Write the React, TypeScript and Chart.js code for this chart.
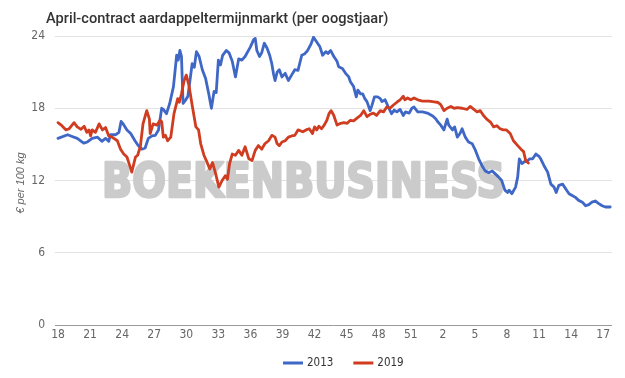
import React, { useEffect, useRef } from 'react';
import { Chart, registerables } from 'chart.js';

Chart.register(...registerables);

const TITLE = 'April-contract aardappeltermijnmarkt (per oogstjaar)';
const Y_TITLE = '€ per 100 kg';
const WATERMARK = 'BOEKENBUSINESS';
const SERIES_NAMES = ['2013', '2019'];
const SERIES_COLORS = ['#3f67c6', '#d03c1f'];

// x = weeks elapsed since week 18 of the harvest year
const X_TICK_POS = [0, 3, 6, 9, 12, 15, 18, 21, 24, 27, 30, 33, 36, 39, 42, 45, 48, 51];
const X_TICK_LABELS = ['18', '21', '24', '27', '30', '33', '36', '39', '42', '45', '48', '51', '2', '5', '8', '11', '14', '17'];
const Y_TICKS = [0, 6, 12, 18, 24];

const S2013: [number, number][] = [
  [0, 15.5], [0.9, 15.8], [1.2, 15.7], [1.8, 15.5], [2.4, 15.1], [2.75, 15.2], [3.2, 15.5], [3.7, 15.6],
  [4.1, 15.25], [4.45, 15.5], [4.75, 15.25], [4.9, 15.8], [5.4, 15.8], [5.7, 16.0], [5.9, 16.9], [6.1, 16.7],
  [6.45, 16.2], [6.8, 15.9], [7.2, 15.3], [7.5, 14.9], [7.85, 14.6], [8.15, 14.7], [8.45, 15.5], [8.8, 15.7],
  [9.1, 15.75], [9.4, 16.2], [9.7, 18.0], [9.85, 17.9], [10.15, 17.55], [10.45, 18.4], [10.8, 19.8], [11.1, 22.4],
  [11.25, 22.0], [11.4, 22.8], [11.55, 22.3], [11.7, 18.4], [11.95, 18.7], [12.15, 19.0], [12.55, 21.7], [12.75, 21.4],
  [12.95, 22.7], [13.2, 22.3], [13.5, 21.2], [13.8, 20.5], [14.1, 19.2], [14.35, 18.0], [14.6, 19.4], [14.8, 19.3],
  [15.0, 22.0], [15.2, 21.6], [15.4, 22.4], [15.75, 22.8], [16.0, 22.6], [16.3, 21.9], [16.6, 20.6], [16.9, 22.1],
  [17.2, 22.0], [17.5, 22.3], [18.0, 23.1], [18.3, 23.7], [18.45, 23.8], [18.6, 22.8], [18.85, 22.3], [19.05, 22.6],
  [19.3, 23.4], [19.55, 23.0], [19.8, 22.4], [20.0, 21.7], [20.15, 20.9], [20.3, 20.3], [20.5, 21.0], [20.7, 21.2],
  [20.95, 20.6], [21.25, 20.9], [21.55, 20.3], [21.85, 20.75], [22.15, 21.2], [22.45, 21.15], [22.8, 22.4], [23.05, 22.5],
  [23.35, 22.8], [23.65, 23.3], [23.9, 23.9], [24.2, 23.5], [24.5, 23.1], [24.75, 22.4], [25.05, 22.7], [25.25, 22.55],
  [25.5, 22.8], [25.8, 22.3], [26.1, 21.9], [26.25, 21.45], [26.6, 21.3], [26.9, 20.9], [27.2, 20.6], [27.35, 20.2],
  [27.65, 19.8], [27.9, 18.95], [28.05, 19.5], [28.3, 19.2], [28.5, 19.2], [28.7, 18.8], [28.9, 18.55], [29.2, 17.8],
  [29.35, 18.2], [29.6, 18.95], [29.9, 18.95], [30.15, 18.8], [30.3, 18.55], [30.6, 18.7], [30.9, 18.1], [31.2, 17.55],
  [31.45, 17.85], [31.7, 17.7], [32.0, 17.9], [32.3, 17.4], [32.5, 17.7], [32.85, 17.6], [33.1, 18.0], [33.3, 18.1],
  [33.65, 17.7], [34.1, 17.7], [34.55, 17.6], [35.05, 17.35], [35.35, 17.1], [35.5, 16.9], [35.8, 16.6], [36.1, 16.2],
  [36.4, 17.1], [36.55, 16.6], [36.9, 16.2], [37.1, 16.45], [37.35, 15.6], [37.6, 15.9], [37.8, 16.3], [38.1, 15.6],
  [38.4, 15.2], [38.75, 15.05], [39.05, 14.5], [39.35, 13.8], [39.65, 13.25], [39.95, 12.8], [40.3, 12.65], [40.6, 12.8],
  [40.9, 12.55], [41.2, 12.3], [41.5, 12.0], [41.8, 11.2], [42.05, 11.0], [42.2, 11.2], [42.45, 10.9], [42.8, 11.45],
  [43.0, 12.3], [43.15, 13.8], [43.4, 13.4], [43.6, 13.55], [43.95, 13.65], [44.1, 13.8], [44.4, 13.8], [44.7, 14.2],
  [45.0, 14.0], [45.15, 13.8], [45.45, 13.25], [45.8, 12.7], [46.1, 11.7], [46.4, 11.45], [46.6, 11.0], [46.85, 11.6],
  [47.2, 11.7], [47.5, 11.3], [47.8, 10.9], [48.1, 10.75], [48.4, 10.6], [48.7, 10.35], [49.05, 10.2], [49.35, 9.9],
  [49.65, 10.0], [49.95, 10.2], [50.25, 10.3], [50.55, 10.1], [50.9, 9.9], [51.2, 9.8], [51.65, 9.8],
];

const S2019: [number, number][] = [
  [0, 16.8], [0.3, 16.6], [0.75, 16.2], [1.05, 16.3], [1.5, 16.8], [1.8, 16.45], [2.15, 16.25], [2.45, 16.5],
  [2.7, 16.0], [2.9, 16.2], [3.05, 15.7], [3.2, 16.2], [3.5, 16.0], [3.85, 16.7], [4.15, 16.2], [4.45, 16.4],
  [4.75, 15.7], [5.05, 15.6], [5.55, 15.3], [5.85, 14.6], [6.15, 14.2], [6.45, 13.95], [6.65, 13.4], [6.9, 12.7],
  [7.25, 13.95], [7.45, 14.1], [7.7, 14.8], [7.95, 16.7], [8.3, 17.8], [8.55, 17.1], [8.62, 15.9], [8.9, 16.7],
  [9.25, 16.6], [9.55, 17.0], [9.7, 16.9], [9.85, 15.6], [10.05, 15.75], [10.25, 15.3], [10.55, 15.6], [10.85, 17.55],
  [11.2, 18.8], [11.35, 18.5], [11.55, 19.2], [11.8, 20.3], [12.0, 20.75], [12.25, 19.9], [12.55, 18.25], [12.9, 16.45],
  [13.15, 16.2], [13.35, 15.05], [13.65, 14.1], [13.95, 13.5], [14.2, 12.95], [14.45, 13.5], [14.75, 12.55], [15.05, 11.45],
  [15.35, 12.0], [15.65, 12.4], [15.85, 12.1], [16.05, 13.4], [16.3, 14.2], [16.6, 14.1], [16.9, 14.5], [17.2, 14.1],
  [17.5, 14.8], [17.85, 13.8], [18.15, 13.65], [18.45, 14.5], [18.75, 14.9], [19.05, 14.6], [19.35, 15.05], [19.7, 15.3],
  [20.0, 15.75], [20.3, 15.6], [20.5, 15.05], [20.7, 14.9], [20.95, 15.2], [21.25, 15.3], [21.55, 15.6], [21.85, 15.7],
  [22.15, 15.75], [22.45, 16.2], [22.9, 16.05], [23.2, 16.2], [23.5, 16.3], [23.8, 15.9], [24.0, 16.45], [24.2, 16.2],
  [24.4, 16.5], [24.65, 16.3], [24.9, 16.6], [25.15, 17.0], [25.35, 17.55], [25.55, 17.8], [25.8, 17.4], [26.1, 16.6],
  [26.45, 16.75], [26.75, 16.8], [27.05, 16.75], [27.35, 17.0], [27.65, 16.95], [28.0, 17.2], [28.3, 17.4], [28.6, 17.8],
  [28.9, 17.3], [29.2, 17.5], [29.5, 17.6], [29.8, 17.4], [30.15, 17.8], [30.45, 17.7], [30.75, 18.1], [31.05, 18.0],
  [31.35, 18.25], [31.7, 18.5], [32.0, 18.7], [32.3, 19.0], [32.45, 18.7], [32.7, 18.85], [33.0, 18.7], [33.3, 18.85],
  [33.65, 18.7], [34.1, 18.6], [34.7, 18.6], [35.35, 18.5], [35.5, 18.5], [35.8, 18.3], [36.1, 17.8], [36.4, 18.0],
  [36.75, 18.15], [37.05, 18.0], [37.35, 18.05], [37.8, 18.0], [38.25, 17.9], [38.55, 18.15], [38.9, 17.9], [39.2, 17.7],
  [39.5, 17.8], [39.8, 17.4], [40.1, 17.1], [40.45, 16.85], [40.75, 16.45], [41.05, 16.55], [41.35, 16.3], [41.65, 16.2],
  [41.95, 16.2], [42.3, 15.9], [42.6, 15.3], [43.0, 14.9], [43.3, 14.6], [43.55, 14.4], [43.75, 13.65], [44.0, 13.45],
];

const X_MIN = -0.28;
const X_MAX = 51.82;

const TICK_FONT = { family: "'Liberation Sans Narrow', 'DejaVu Sans Condensed', sans-serif", size: 12 };

const decorPlugin = {
  id: 'decor',
  beforeDatasetsDraw(chart: any) {
    const ctx = chart.ctx as CanvasRenderingContext2D;
    ctx.save();
    ctx.font = "bold 48px 'DejaVu Sans Condensed', 'DejaVu Sans', sans-serif";
    const w = ctx.measureText(WATERMARK).width;
    ctx.translate(102, 197);
    ctx.scale(403 / w, 1);
    ctx.fillStyle = 'rgb(203,203,203)';
    ctx.strokeStyle = 'rgb(203,203,203)';
    ctx.lineWidth = 2.5;
    ctx.lineJoin = 'round';
    ctx.textBaseline = 'alphabetic';
    ctx.textAlign = 'left';
    ctx.strokeText(WATERMARK, 0, 0);
    ctx.fillText(WATERMARK, 0, 0);
    ctx.restore();
  },
  afterDraw(chart: any) {
    const ctx = chart.ctx as CanvasRenderingContext2D;
    const area = chart.chartArea;
    ctx.save();
    // Title
    ctx.font = "500 14.6px Roboto, sans-serif";
    ctx.fillStyle = '#333333';
    ctx.textAlign = 'left';
    ctx.textBaseline = 'alphabetic';
    ctx.fillText(TITLE, 46, 23);
    // Y axis title
    ctx.save();
    ctx.translate(21, 183);
    ctx.rotate(-Math.PI / 2);
    ctx.font = "italic 11px 'Liberation Sans', sans-serif";
    ctx.fillStyle = '#666666';
    ctx.textAlign = 'center';
    ctx.textBaseline = 'middle';
    ctx.fillText(Y_TITLE, 0, 0);
    ctx.restore();
    // Legend
    ctx.font = "11.5px 'Liberation Sans Narrow', 'DejaVu Sans Condensed', sans-serif";
    let x = 283;
    const y = 363;
    SERIES_NAMES.forEach((n, i) => {
      ctx.strokeStyle = SERIES_COLORS[i];
      ctx.lineWidth = 3;
      ctx.beginPath();
      ctx.moveTo(x, y);
      ctx.lineTo(x + 20, y);
      ctx.stroke();
      ctx.fillStyle = '#333333';
      ctx.textAlign = 'left';
      ctx.textBaseline = 'middle';
      ctx.fillText(n, x + 24, y);
      x += 24 + ctx.measureText(n).width + 20;
    });
    ctx.restore();
  },
};

export default function App() {
  const ref = useRef<HTMLCanvasElement | null>(null);
  useEffect(() => {
    if (!ref.current) return;
    const chart = new Chart(ref.current, {
      type: 'line',
      data: {
        datasets: [
          {
            label: SERIES_NAMES[0],
            data: S2013.map(([x, y]) => ({ x, y })),
            borderColor: SERIES_COLORS[0],
            backgroundColor: SERIES_COLORS[0],
            borderWidth: 2.8,
            pointRadius: 0,
            tension: 0,
            order: 1,
          },
          {
            label: SERIES_NAMES[1],
            data: S2019.map(([x, y]) => ({ x, y })),
            borderColor: SERIES_COLORS[1],
            backgroundColor: SERIES_COLORS[1],
            borderWidth: 2.8,
            pointRadius: 0,
            tension: 0,
            order: 0,
          },
        ],
      },
      options: {
        animation: false,
        responsive: false,
        devicePixelRatio: 1,
        events: [],
        layout: { padding: { left: 0, top: 36, right: 13, bottom: 0 } },
        plugins: { legend: { display: false }, title: { display: false }, tooltip: { enabled: false } },
        elements: { line: { borderJoinStyle: 'round', borderCapStyle: 'round' } },
        scales: {
          x: {
            type: 'linear',
            min: X_MIN,
            max: X_MAX,
            afterBuildTicks: (s: any) => {
              s.ticks = X_TICK_POS.map((v) => ({ value: v }));
            },
            afterFit: (s: any) => {
              s.height = 53;
            },
            grid: { display: false, drawTicks: false },
            border: { display: false },
            ticks: {
              autoSkip: false,
              maxRotation: 0,
              padding: 3,
              color: '#666666',
              font: TICK_FONT,
              callback: (v: any) => {
                const k = X_TICK_POS.indexOf(Number(v));
                return k >= 0 ? X_TICK_LABELS[k] : '';
              },
            },
          },
          y: {
            min: 0,
            max: 24,
            afterBuildTicks: (s: any) => {
              s.ticks = Y_TICKS.map((v) => ({ value: v }));
            },
            afterFit: (s: any) => {
              s.width = 55;
            },
            grid: {
              drawTicks: false,
              color: (c: any) => (c.tick && c.tick.value === 0 ? '#9a9a9a' : '#e3e3e3'),
              lineWidth: 1,
            },
            border: { display: false },
            ticks: { padding: 10, color: '#666666', font: TICK_FONT },
          },
        },
      },
      plugins: [decorPlugin],
    });
    return () => chart.destroy();
  }, []);
  return (
    <div style={{ position: 'fixed', left: 0, top: 0, width: 625, height: 378, background: '#ffffff' }}>
      <canvas ref={ref} width={625} height={378} style={{ display: 'block' }} />
    </div>
  );
}
